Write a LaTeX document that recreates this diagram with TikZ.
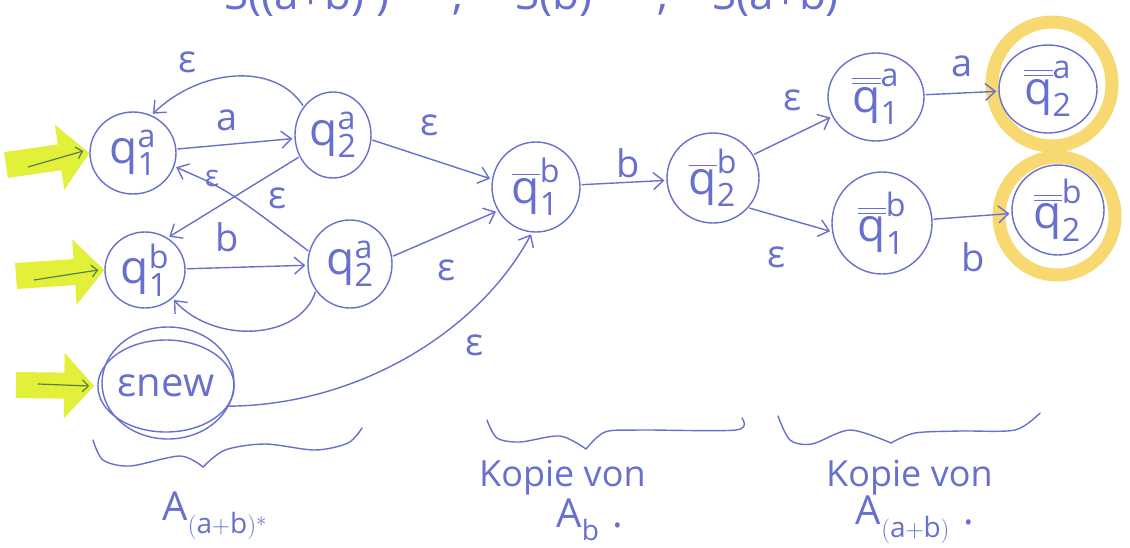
\documentclass[tikz,border=0pt]{standalone}
\usepackage{fontspec}
\usepackage{amsmath}
\setmainfont{Open Sans}
\usetikzlibrary{arrows.meta,shapes.geometric}
\definecolor{ink}{RGB}{104,112,206}
\definecolor{hlgreen}{RGB}{226,240,58}
\definecolor{hlgold}{RGB}{248,216,112}
\definecolor{pen}{RGB}{86,128,72}
\begin{document}
\begin{tikzpicture}[x=1pt,y=-1pt,
  state/.style={ellipse,draw=ink,line width=1.4pt,inner sep=0pt,text=ink,font=\fontsize{46}{50}\selectfont},
  move/.style={draw=ink,line width=1.4pt,-{Straight Barb[length=10pt,width=17pt,line width=1.4pt]},shorten >=2pt,shorten <=1pt},
  lbl/.style={text=ink,inner sep=0pt,font=\fontsize{38}{40}\selectfont},
  note/.style={text=ink,inner sep=0pt,font=\fontsize{36}{40}\selectfont},
  head/.style={text=ink,inner sep=0pt,anchor=base west,font=\fontsize{44}{48}\selectfont},
  hl/.style={draw=hlgreen,line width=26pt,-{Triangle[length=30pt,width=64pt]}},
  penline/.style={draw=pen,line width=1.2pt,-{Straight Barb[length=6pt,width=12pt,line width=1.2pt]}},
  ring/.style={draw=hlgold,line width=13pt},
  brace/.style={draw=ink,line width=1.4pt,line cap=round,line join=round}]

\useasboundingbox (0,0) rectangle (1130,547);
\fill[white] (0,0) rectangle (1130,547);

% heading line, cut by the top edge
\node[head] (t1) at (224,9) {S((a+b)$^{*}$)};
\node[head] (c1) at (452,9) {,};
\node[head] (t2) at (515,9) {S(b)};
\node[head] (c2) at (657,9) {,};
\node[head] (t3) at (712,9) {S(a+b)};

% highlighter rings of the final states
\draw[ring] (1052,84) ellipse [x radius=60,y radius=62];
\draw[ring] (1057,216) ellipse [x radius=58,y radius=59];

% states
\node[state,minimum width=86,minimum height=82] (q1a) at (133,153) {$\text{q}^{\text{a}}_{\text{1}}$};
\node[state,minimum width=76,minimum height=86] (q2a) at (333,135) {$\text{q}^{\text{a}}_{\text{2}}$};
\node[state,minimum width=80,minimum height=76] (q1b) at (145,270) {$\text{q}^{\text{b}}_{\text{1}}$};
\node[state,minimum width=84,minimum height=88] (q2b) at (350,264) {$\text{q}^{\text{a}}_{\text{2}}$};
\node[state,minimum width=122,minimum height=92,font=\fontsize{40}{44}\selectfont] (enew) at (166,386) {εnew};
\draw[ink,line width=1.4pt] ([xshift=2pt,yshift=3pt]enew.center) ellipse [x radius=66,y radius=56];

\node[state,minimum width=88,minimum height=90] (pb1) at (536,187) {$\overline{\text{q}}^{\text{b}}_{\text{1}}$};
\node[state,minimum width=92,minimum height=90] (pb2) at (713,178) {$\overline{\text{q}}^{\text{b}}_{\text{2}}$};
\node[state,minimum width=96,minimum height=88] (ra1) at (876,97) {$\overline{\overline{\text{q}}}^{\text{a}}_{\text{1}}$};
\node[state,minimum width=98,minimum height=88] (ra2) at (1048,89) {$\overline{\overline{\text{q}}}^{\text{a}}_{\text{2}}$};
\node[state,minimum width=100,minimum height=102] (rb1) at (882,223) {$\overline{\overline{\text{q}}}^{\text{b}}_{\text{1}}$};
\node[state,minimum width=92,minimum height=90] (rb2) at (1058,210) {$\overline{\overline{\text{q}}}^{\text{b}}_{\text{2}}$};

% start markers
\coordinate (s1) at (6,165);
\coordinate (s2) at (16,276);
\coordinate (s3) at (16,385);
\draw[hl] (s1) -- (q1a.west);
\draw[hl] (s2) -- (q1b.west);
\draw[hl] (s3) -- ([xshift=-3pt]enew.west);
\coordinate (g1) at (28,167);
\coordinate (g2) at (34,280);
\coordinate (g3) at (38,384);
\draw[penline] (g1) -- ([xshift=-6pt,yshift=2pt]q1a.west);
\draw[penline] (g2) -- ([xshift=-6pt]q1b.west);
\draw[penline] (g3) -- ([xshift=-8pt]enew.west);

% transitions
\draw[move] (q1a) -- (q2a);
\draw[move] (q2a.136) .. controls (275,62) and (200,68) .. (q1a.64);
\draw[move] (q2a.213) -- (q1b.55);
\draw[move] (q2b.163) .. controls (228,190) .. (q1a.-18);
\draw[move] (q1b) -- (q2b);
\draw[move] (q2b.218) .. controls (300,340) and (215,345) .. (q1b.314);
\draw[move] (q2a.-7) -- (pb1.170);
\draw[move] (q2b.10) -- (pb1.212);
\draw[move] (enew.-18) .. controls (360,405) and (480,330) .. (pb1.265);
\draw[move] (pb1) -- (pb2);
\draw[move] (pb2.30) -- (ra1.204);
\draw[move] (pb2.-40) -- (rb1.190);
\draw[move] (ra1) -- (ra2);
\draw[move] (rb1) -- (rb2);

% transition labels
\node[lbl] (e1) at (188,62) {ε};
\node[lbl] (l1) at (227,120) {a};
\node[lbl,font=\fontsize{30}{32}\selectfont] (e2) at (212,178) {ε};
\node[lbl] (e3) at (278,198) {ε};
\node[lbl] (l2) at (227,237) {b};
\node[lbl] (e4) at (430,125) {ε};
\node[lbl] (e5) at (447,270) {ε};
\node[lbl] (e6) at (475,345) {ε};
\node[lbl] (l3) at (628,163) {b};
\node[lbl] (e7) at (793,100) {ε};
\node[lbl] (e8) at (777,257) {ε};
\node[lbl] (l4) at (962,66) {a};
\node[lbl] (l5) at (973,257) {b};

% braces
\draw[brace] plot[smooth] coordinates {(93,440) (103,460) (130,466) (180,456) (203,467)};
\draw[brace] plot[smooth] coordinates {(203,467) (225,450) (265,444) (315,450) (348,443) (362,428)};
\draw[brace] plot[smooth] coordinates {(487,420) (497,438) (520,442) (560,436) (586,449)};
\draw[brace] plot[smooth] coordinates {(586,449) (605,432) (640,430) (736,430) (742,418)};
\draw[brace] plot[smooth] coordinates {(778,416) (790,440) (812,444) (850,430) (891,443)};
\draw[brace] plot[smooth] coordinates {(891,443) (915,433) (960,431) (1015,430) (1040,413)};

% captions
\node[note,font=\fontsize{40}{44}\selectfont] (cap1) at (215,516) {$\text{A}_{(\text{a}+\text{b})^{*}}$};
\node[note,anchor=west] (k1) at (479,478) {Kopie von};
\node[note,font=\fontsize{40}{44}\selectfont] (k1b) at (590,520) {$\text{A}_{\text{b}}$\,\,.};
\node[note,anchor=west] (k2) at (826,478) {Kopie von};
\node[note,font=\fontsize{40}{44}\selectfont] (k2b) at (915,520) {$\text{A}_{(\text{a}+\text{b})}$\,\,.};
\end{tikzpicture}
\end{document}
